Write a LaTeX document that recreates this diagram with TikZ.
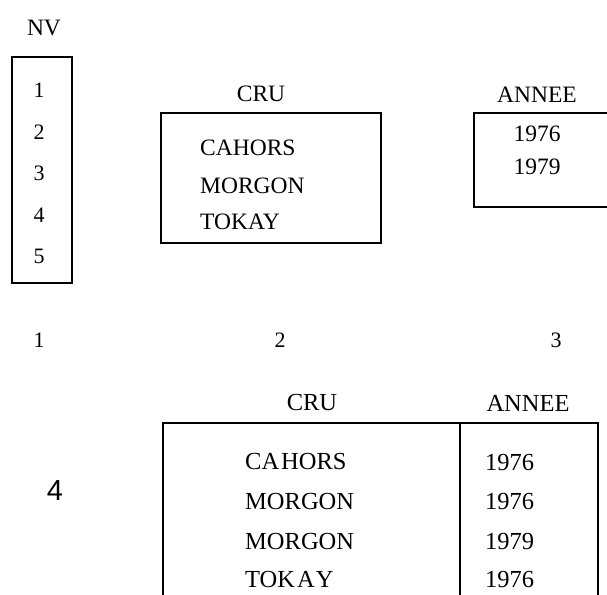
\documentclass[tikz,border=0pt]{standalone}
\usepackage{fontspec}
\setmainfont{Liberation Serif}
\newfontfamily\sansfour{Liberation Sans}
\begin{document}
\begin{tikzpicture}[x=1pt,y=-1pt,
  box/.style={draw=black,line width=1.6pt},
  lbl/.style={inner sep=0pt,font=\fontsize{23.5}{28}\selectfont},
  sml/.style={inner sep=0pt,font=\fontsize{22}{26}\selectfont},
  blbl/.style={inner sep=0pt,font=\fontsize{24.5}{29}\selectfont},
  big/.style={inner sep=0pt,font=\sansfour\fontsize{29}{34}\selectfont}]
\useasboundingbox (0,0) rectangle (607,594);
\clip (0,0) rectangle (607,594);
% NV
\node[lbl] (nvlab) at (44,28) {NV};
\draw[box] (12,57) rectangle (72,283);
\foreach \v/\y in {1/90,2/132,3/173,4/215,5/256}
  \node[sml] (nv\v) at (39,\y) {\v};
% CRU
\node[lbl] (crulab) at (261,94) {CRU};
\draw[box] (161,113) rectangle (381,243);
\node[lbl,anchor=west] (c1) at (200,148) {CAHORS};
\node[lbl,anchor=west] (c2) at (200,186) {MORGON};
\node[lbl,anchor=west] (c3) at (200,222) {TOKAY};
% ANNEE
\node[lbl] (anlab) at (537,95) {ANNEE};
\draw[box] (474,113) rectangle (612,207);
\node[lbl] (a1) at (537,134) {1976};
\node[lbl] (a2) at (537,167) {1979};
% numbers
\node[sml] (n1) at (39,340) {1};
\node[sml] (n2) at (280,340) {2};
\node[sml] (n3) at (556,340) {3};
\node[big] (n4) at (55,491) {4};
% result table
\node[blbl] (rcru) at (312,403) {CRU};
\node[blbl] (rann) at (528,403) {ANNEE};
\draw[box] (163,600) -- (163,423) -- (598,423) -- (598,600);
\draw[box] (460,423) -- (460,600);
\node[blbl,anchor=west] (r1c) at (245,462) {CA\kern2pt HORS};
\node[blbl,anchor=west] (r2c) at (245,502) {MORGON};
\node[blbl,anchor=west] (r3c) at (245,542) {MORGON};
\node[blbl,anchor=west] (r4c) at (245,580) {TOK\kern2pt A\kern1pt Y};
\foreach \n/\yr/\y in {r1/1976/463,r2/1976/502,r3/1979/542,r4/1976/580}
  \node[blbl,anchor=west] (\n y) at (485,\y) {\yr};
\end{tikzpicture}
\end{document}
